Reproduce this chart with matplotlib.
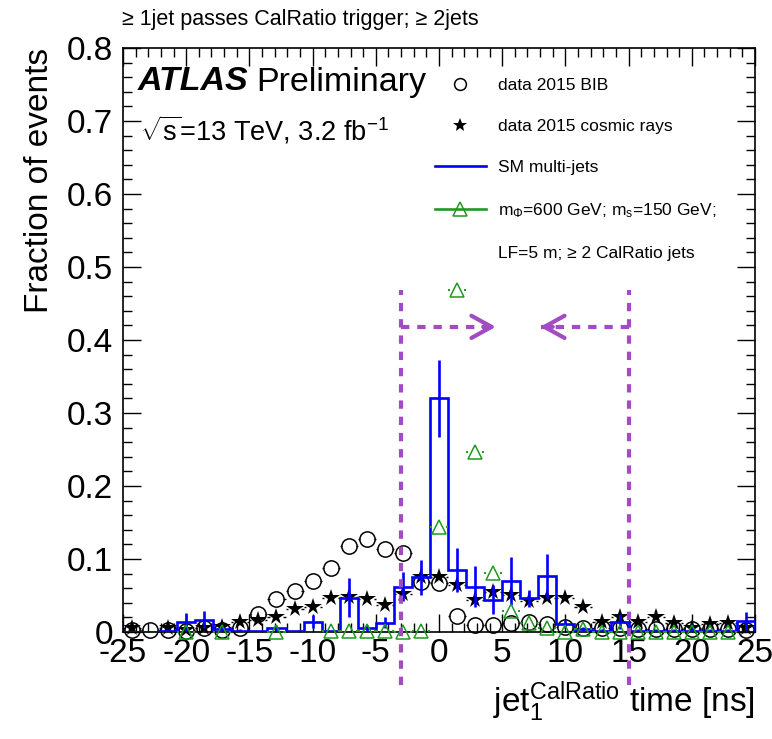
import numpy as np
import matplotlib
matplotlib.use("Agg")
import matplotlib.pyplot as plt
from matplotlib.lines import Line2D
from matplotlib.ticker import MultipleLocator

plt.rcParams['font.family'] = ['Liberation Sans', 'DejaVu Sans']
plt.rcParams['mathtext.fontset'] = 'custom'
plt.rcParams['mathtext.rm'] = 'Liberation Sans'
plt.rcParams['mathtext.it'] = 'Liberation Sans:italic'
plt.rcParams['mathtext.bf'] = 'Liberation Sans:bold'
plt.rcParams['axes.unicode_minus'] = False

# ---------------- data ----------------
n_bins = 35
x_min, x_max = -25, 25
edges = np.linspace(x_min, x_max, n_bins + 1)
centers = 0.5 * (edges[:-1] + edges[1:])
half_w = 0.5 * (edges[1] - edges[0])

bib = [0.003, 0.003, 0.003, 0.002, 0.005, 0.003, 0.006, 0.024, 0.045, 0.056,
       0.070, 0.088, 0.118, 0.127, 0.114, 0.108, 0.068, 0.067, 0.022, 0.010,
       0.010, 0.012, 0.014, 0.011, 0.007, 0.006, 0.005, 0.005, 0.004, 0.004,
       0.004, 0.004, 0.004, 0.004, 0.003]

cosmic = [0.005, np.nan, 0.006, 0.003, 0.006, 0.007, 0.014, 0.016, 0.021, 0.031,
          0.034, 0.047, 0.048, 0.045, 0.037, 0.052, 0.075, 0.075, 0.064, 0.044,
          0.055, 0.051, 0.042, 0.046, 0.046, 0.034, 0.014, 0.021, 0.014, 0.020,
          0.013, 0.006, 0.011, 0.013, 0.006]

multijet = [0.0, 0.0, 0.002, 0.014, 0.017, 0.004, 0.002, 0.001, 0.005, 0.001,
            0.014, 0.001, 0.047, 0.005, 0.013, 0.062, 0.075, 0.320, 0.085, 0.062,
            0.044, 0.070, 0.046, 0.077, 0.011, 0.004, 0.002, 0.014, 0.002, 0.002,
            0.002, 0.001, 0.002, 0.002, 0.015]

multijet_err = [0.0, 0.0, 0.002, 0.012, 0.012, 0.003, 0.002, 0.001, 0.004, 0.001,
                0.009, 0.001, 0.027, 0.004, 0.007, 0.020, 0.024, 0.053, 0.030, 0.028,
                0.020, 0.033, 0.012, 0.030, 0.006, 0.003, 0.002, 0.010, 0.002, 0.002,
                0.002, 0.008, 0.002, 0.002, 0.012]

signal = [np.nan, np.nan, np.nan, 0.0005, np.nan, 0.0005, np.nan, np.nan, 0.0005, np.nan,
          np.nan, 0.0008, 0.0008, 0.0008, 0.0008, 0.0005, 0.0008, 0.144, 0.468, 0.246,
          0.081, 0.029, 0.012, 0.006, 0.0005, 0.004, 0.0005, 0.0005, 0.0005, 0.0005,
          0.0005, 0.0005, 0.0005, 0.0005, np.nan]

cut_lo, cut_hi = -3, 15
arrow_y = 0.418
arrow_lo_tip, arrow_hi_tip = 4.5, 8.0

x_ticks = list(range(-25, 26, 5))
y_ticks = [0, 0.1, 0.2, 0.3, 0.4, 0.5, 0.6, 0.7, 0.8]
y_ticklabels = ["0", "0.1", "0.2", "0.3", "0.4", "0.5", "0.6", "0.7", "0.8"]

# ---------------- figure ----------------
W, H = 772, 739
fig = plt.figure(figsize=(W / 100, H / 100), dpi=100)
ax = fig.add_axes([123 / W, 1 - 632 / H, (755 - 123) / W, (632 - 48) / H])
ax.set_xlim(x_min, x_max)
ax.set_ylim(0, 0.8)

purple = '#a24bc2'
green = '#1f9a1f'
blue = '#0000ff'

centers_a = np.array(centers)
bib_a = np.array(bib)
cos_a = np.array(cosmic)
sig_a = np.array(signal, dtype=float)

# marker radius (data units) used to draw the x-error stubs outside markers
r_marker = 0.55

def xerr_stubs(y, color, lw=1.0, z=3):
    ok = ~np.isnan(y)
    ax.hlines(y[ok], centers_a[ok] - half_w, centers_a[ok] - r_marker, color=color, lw=lw, zorder=z, clip_on=False)
    ax.hlines(y[ok], centers_a[ok] + r_marker, centers_a[ok] + half_w, color=color, lw=lw, zorder=z, clip_on=False)

# BIB data
xerr_stubs(bib_a, 'k')
ax.plot(centers_a, bib_a, ls='none', marker='o', ms=11, mfc='none', mec='k', mew=1.1, zorder=3, clip_on=False)

# cosmic data
xerr_stubs(cos_a, 'k')
ax.plot(centers_a, cos_a, ls='none', marker='*', ms=13, color='k', mew=0, zorder=3, clip_on=False)

# SM multijets
ax.stairs(multijet, edges, color=blue, lw=1.9, zorder=4)
me = np.array(multijet_err)
mj = np.array(multijet)
okm = me > 0
ax.vlines(centers_a[okm], np.clip(mj[okm] - me[okm], 0, None), mj[okm] + me[okm], color=blue, lw=1.9, zorder=4)

# signal
xerr_stubs(sig_a, green, lw=1.4, z=5)
ax.plot(centers_a, sig_a, ls='none', marker='^', ms=10, mfc='none', mec=green, mew=1.1, zorder=5, clip_on=False)

# cut lines and arrows
for xc in (cut_lo, cut_hi):
    ax.plot([xc, xc], [-0.073, 0.468], color=purple, lw=3, dashes=(2, 1.9), clip_on=False, zorder=6)
ax.plot([cut_lo, arrow_lo_tip - 0.1], [arrow_y, arrow_y], color=purple, lw=3, dashes=(2, 1.9), zorder=6)
ax.plot([cut_hi, arrow_hi_tip + 0.1], [arrow_y, arrow_y], color=purple, lw=3, dashes=(2, 1.9), zorder=6)
ax.annotate('', xy=(arrow_lo_tip, arrow_y), xytext=(arrow_lo_tip - 1.0, arrow_y),
            arrowprops=dict(arrowstyle='->,head_length=1.45,head_width=0.8', color=purple, lw=3,
                            shrinkA=0, shrinkB=0), zorder=6)
ax.annotate('', xy=(arrow_hi_tip, arrow_y), xytext=(arrow_hi_tip + 1.0, arrow_y),
            arrowprops=dict(arrowstyle='->,head_length=1.45,head_width=0.8', color=purple, lw=3,
                            shrinkA=0, shrinkB=0), zorder=6)

# ticks
ax.set_xticks(x_ticks)
ax.set_xticklabels([str(t) for t in x_ticks])
ax.set_yticks(y_ticks)
ax.set_yticklabels(y_ticklabels)
ax.xaxis.set_minor_locator(MultipleLocator(1))
ax.yaxis.set_minor_locator(MultipleLocator(0.02))
ax.tick_params(which='both', direction='in', top=True, right=True, width=1.0, labelsize=24)
ax.tick_params(which='major', length=13)
ax.tick_params(which='minor', length=6.5)
ax.tick_params(axis='x', pad=4)
ax.tick_params(axis='y', pad=7)
for s in ax.spines.values():
    s.set_linewidth(1.2)

# legend
h1 = Line2D([], [], ls='none', marker='o', ms=8.5, mfc='none', mec='k', mew=1.1)
h2 = Line2D([], [], ls='none', marker='*', ms=10, color='k', mew=0)
h3 = Line2D([], [], color=blue, lw=1.9)
h4 = Line2D([], [], color=green, lw=1.9, marker='^', ms=10, mfc='none', mec=green, mew=1.1)
h5 = Line2D([], [], ls='none')
labels = ["data 2015 BIB", "data 2015 cosmic rays", "SM multi-jets",
          r"m$_{\Phi}$=600 GeV; m$_{\mathrm{s}}$=150 GeV;", "LF=5 m; \u2265 2 CalRatio jets"]
ax.legend([h1, h2, h3, h4, h5], labels, loc='upper left', bbox_to_anchor=(0.494, 0.949),
          frameon=False, fontsize=12.5, handlelength=2.9, handletextpad=0.7,
          labelspacing=1.5, borderpad=0, borderaxespad=0)

# texts
fig.text(122 / W, 1 - 19 / H, "\u2265 1jet passes CalRatio trigger; \u2265 2jets", fontsize=15.5,
         ha='left', va='center')
fig.text(138 / W, 1 - 82 / H, "ATLAS", fontsize=24.5, fontweight='bold', fontstyle='italic',
         ha='left', va='center')
fig.text(256 / W, 1 - 82 / H, "Preliminary", fontsize=24.5, ha='left', va='center')
fig.text(140 / W, 1 - 130 / H, r"$\sqrt{\mathrm{s}}$=13 TeV, 3.2 fb$^{\mathrm{-1}}$", fontsize=19.5,
         ha='left', va='center')
fig.text(40 / W, 1 - 48 / H, "Fraction of events", rotation=90, fontsize=24, ha='center', va='top')
fig.text(755 / W, 1 - 702 / H, r"jet$_{1}^{\mathrm{CalRatio}}$ time [ns]", fontsize=24, ha='right', va='center')

fig.savefig("out.png", dpi=100)
